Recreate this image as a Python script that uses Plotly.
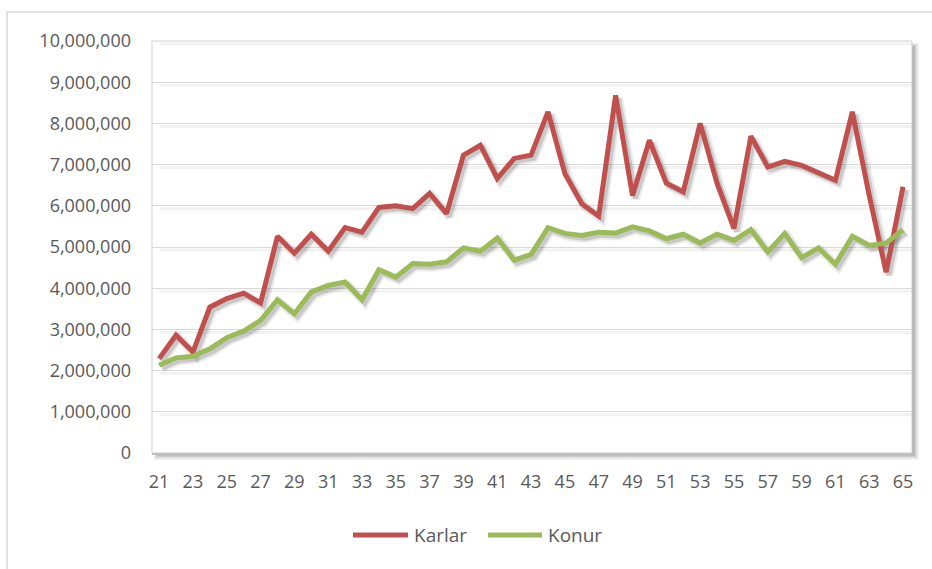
import plotly.graph_objects as go

ages = list(range(21, 66))
karlar = [2290000, 2860000, 2450000, 3540000, 3750000, 3880000, 3640000, 5260000, 4850000, 5310000,
          4900000, 5470000, 5360000, 5960000, 6000000, 5930000, 6300000, 5810000, 7230000, 7470000,
          6660000, 7150000, 7230000, 8280000, 6780000, 6050000, 5750000, 8680000, 6250000, 7590000,
          6550000, 6340000, 8000000, 6550000, 5450000, 7690000, 6940000, 7080000, 6980000, 6800000,
          6620000, 8280000, 6250000, 4390000, 6460000]
konur = [2130000, 2310000, 2350000, 2530000, 2800000, 2960000, 3220000, 3720000, 3380000, 3910000,
         4070000, 4150000, 3720000, 4450000, 4270000, 4600000, 4580000, 4640000, 4980000, 4900000,
         5220000, 4680000, 4820000, 5470000, 5330000, 5280000, 5360000, 5340000, 5490000, 5390000,
         5200000, 5310000, 5100000, 5310000, 5160000, 5420000, 4880000, 5330000, 4740000, 4980000,
         4580000, 5260000, 5040000, 5100000, 5420000]
series_names = ["Karlar", "Konur"]
colors = ["#C0504D", "#9BBB59"]
y_ticks = list(range(0, 10000001, 1000000))

W, H = 932, 569
ML, MR, MT, MB = 152, 20, 41, 116
PW, PH = W - ML - MR, H - MT - MB

XR = [20.58, 65.53]
YR = [0, 10000000]
# shadow offset in pixels -> axis units
sx = 3 * (XR[1] - XR[0]) / PW
sy = 3 * (YR[1] - YR[0]) / PH

FONT = "Open Sans"
TXT = "#595959"
FS = 18

def px_x(p):
    return (p - ML) / PW

def px_y(p):
    return (MT + PH - p) / PH

fig = go.Figure()

# line shadows on an offset overlay axis pair (x2/y2)
for vals in (karlar, konur):
    fig.add_trace(go.Scatter(x=ages, y=vals, mode="lines", xaxis="x2", yaxis="y2",
                             line=dict(color="rgba(0,0,0,0.08)", width=9),
                             hoverinfo="skip", showlegend=False))
    fig.add_trace(go.Scatter(x=ages, y=vals, mode="lines", xaxis="x2", yaxis="y2",
                             line=dict(color="rgba(0,0,0,0.14)", width=5),
                             hoverinfo="skip", showlegend=False))

# main lines on overlay x3/y3 (drawn above shadows)
for name, vals, c in zip(series_names, [karlar, konur], colors):
    fig.add_trace(go.Scatter(x=ages, y=vals, name=name, mode="lines", xaxis="x3", yaxis="y3",
                             line=dict(color=c, width=5, shape="linear"), showlegend=False))

shapes = []
# outer chart border
shapes.append(dict(type="rect", xref="paper", yref="paper",
                   x0=px_x(7), x1=px_x(W + 20), y0=px_y(H + 20), y1=px_y(12),
                   line=dict(color="#D9D9D9", width=1.5), fillcolor="white", layer="below"))
# plot-area shadow (layered for blur)
for i, op in enumerate([0.05, 0.07, 0.09, 0.12]):
    off = 7 - i * 1.5
    shapes.append(dict(type="rect", xref="paper", yref="paper",
                       x0=(2 + i) / PW, x1=1 + off / PW,
                       y0=-off / PH, y1=1 - (2 + i) / PH,
                       line=dict(width=0), fillcolor=f"rgba(0,0,0,{op})", layer="below"))
shapes.append(dict(type="rect", xref="paper", yref="paper", x0=0, x1=1, y0=0, y1=1,
                   line=dict(color="#D0D0D0", width=1), fillcolor="white", layer="below"))
# gridline shadows
for v in y_ticks[1:]:
    shapes.append(dict(type="line", xref="paper", yref="y", x0=0.01, x1=1,
                       y0=v - sy, y1=v - sy,
                       line=dict(color="rgba(0,0,0,0.05)", width=3), layer="below"))

# custom legend
annotations = []
leg_y = px_y(535)
leg_items = [(353, 408, 412), (488, 542, 546)]
for (lx0, lx1, tx), name, c in zip(leg_items, series_names, colors):
    shapes.append(dict(type="line", xref="paper", yref="paper", x0=px_x(lx0), x1=px_x(lx1),
                       y0=leg_y, y1=leg_y, line=dict(color=c, width=5), layer="above"))
    annotations.append(dict(xref="paper", yref="paper", x=px_x(tx), y=leg_y, text=name,
                            showarrow=False, xanchor="left", yanchor="middle",
                            font=dict(family=FONT, size=FS + 1, color=TXT)))

fig.update_layout(shapes=shapes, annotations=annotations)

fig.update_layout(
    width=W, height=H,
    margin=dict(l=ML, r=MR, t=MT, b=MB, pad=0),
    paper_bgcolor="white",
    plot_bgcolor="rgba(0,0,0,0)",
    font=dict(family=FONT, size=FS, color=TXT),
    showlegend=False,
    hovermode=False,
    xaxis=dict(range=XR, tickmode="array", tickvals=ages[::2],
               ticktext=[str(a) for a in ages[::2]],
               showgrid=False, zeroline=False, showline=True, linecolor="#BFBFBF", linewidth=1.5,
               ticks="", ticklabelstandoff=12, tickfont=dict(family=FONT, size=FS, color=TXT)),
    yaxis=dict(range=YR, tickmode="array", tickvals=y_ticks,
               ticktext=[f"{v:,}" for v in y_ticks],
               showgrid=True, gridcolor="#D9D9D9", gridwidth=1, zeroline=False,
               showline=False, ticks="", ticklabelstandoff=20,
               tickfont=dict(family=FONT, size=FS, color=TXT)),
    xaxis2=dict(range=[XR[0] - sx, XR[1] - sx], overlaying="x", visible=False),
    yaxis2=dict(range=[YR[0] + sy, YR[1] + sy], overlaying="y", visible=False),
    xaxis3=dict(range=XR, overlaying="x", visible=False),
    yaxis3=dict(range=YR, overlaying="y", visible=False),
)

fig.write_html("out.html", config={"displayModeBar": False, "staticPlot": True},
               post_script="document.body.style.margin='0px';")
